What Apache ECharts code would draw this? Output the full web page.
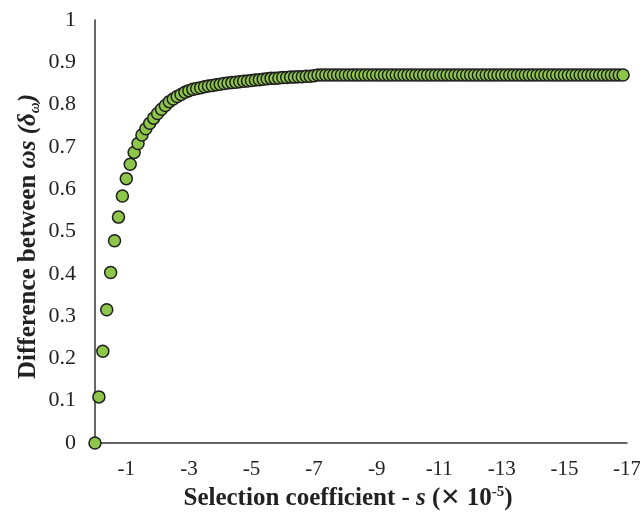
<!DOCTYPE html>
<html>
<head>
<meta charset="utf-8">
<script src="https://cdn.jsdelivr.net/npm/echarts@6/dist/echarts.min.js"></script>
<style>
  html, body { margin: 0; padding: 0; background: #fff; }
  #chart { width: 640px; height: 514px; }
</style>
</head>
<body>
<div id="chart"></div>
<script>
// selection coefficient s (x 10^-5)
var sValues = [
    0, -0.125, -0.25, -0.375, -0.5, -0.625, -0.75, -0.875,
    -1, -1.125, -1.25, -1.375, -1.5, -1.625, -1.75, -1.875,
    -2, -2.125, -2.25, -2.375, -2.5, -2.625, -2.75, -2.875,
    -3, -3.125, -3.25, -3.375, -3.5, -3.625, -3.75, -3.875,
    -4, -4.125, -4.25, -4.375, -4.5, -4.625, -4.75, -4.875,
    -5, -5.125, -5.25, -5.375, -5.5, -5.625, -5.75, -5.875,
    -6, -6.125, -6.25, -6.375, -6.5, -6.625, -6.75, -6.875,
    -7, -7.125, -7.25, -7.375, -7.5, -7.625, -7.75, -7.875,
    -8, -8.125, -8.25, -8.375, -8.5, -8.625, -8.75, -8.875,
    -9, -9.125, -9.25, -9.375, -9.5, -9.625, -9.75, -9.875,
    -10, -10.125, -10.25, -10.375, -10.5, -10.625, -10.75, -10.875,
    -11, -11.125, -11.25, -11.375, -11.5, -11.625, -11.75, -11.875,
    -12, -12.125, -12.25, -12.375, -12.5, -12.625, -12.75, -12.875,
    -13, -13.125, -13.25, -13.375, -13.5, -13.625, -13.75, -13.875,
    -14, -14.125, -14.25, -14.375, -14.5, -14.625, -14.75, -14.875,
    -15, -15.125, -15.25, -15.375, -15.5, -15.625, -15.75, -15.875,
    -16, -16.125, -16.25, -16.375, -16.5, -16.625, -16.75, -16.875
];
// difference between omegas (delta omega)
var deltaValues = [
    0, 0.109, 0.217, 0.315, 0.403, 0.478, 0.534, 0.584,
    0.625, 0.659, 0.687, 0.708, 0.728, 0.743, 0.756, 0.768,
    0.779, 0.789, 0.798, 0.807, 0.813, 0.819, 0.824, 0.829,
    0.833, 0.836, 0.838, 0.840, 0.842, 0.844, 0.845, 0.847,
    0.848, 0.850, 0.851, 0.852, 0.853, 0.854, 0.855, 0.856,
    0.857, 0.858, 0.859, 0.860, 0.861, 0.862, 0.862, 0.863,
    0.864, 0.864, 0.865, 0.865, 0.866, 0.866, 0.867, 0.867,
    0.868, 0.870, 0.870, 0.870, 0.870, 0.870, 0.870, 0.870,
    0.870, 0.870, 0.870, 0.870, 0.870, 0.870, 0.870, 0.870,
    0.870, 0.870, 0.870, 0.870, 0.870, 0.870, 0.870, 0.870,
    0.870, 0.870, 0.870, 0.870, 0.870, 0.870, 0.870, 0.870,
    0.870, 0.870, 0.870, 0.870, 0.870, 0.870, 0.870, 0.870,
    0.870, 0.870, 0.870, 0.870, 0.870, 0.870, 0.870, 0.870,
    0.870, 0.870, 0.870, 0.870, 0.870, 0.870, 0.870, 0.870,
    0.870, 0.870, 0.870, 0.870, 0.870, 0.870, 0.870, 0.870,
    0.870, 0.870, 0.870, 0.870, 0.870, 0.870, 0.870, 0.870,
    0.870, 0.870, 0.870, 0.870, 0.870, 0.870, 0.870, 0.870
];

var serif = "'Liberation Serif', 'DejaVu Serif', serif";

function buildPoints(xs, ys) {
    var pts = [];
    for (var i = 0; i < xs.length; i++) {
        pts.push([xs[i], ys[i]]);
    }
    return pts;
}

var chart = echarts.init(document.getElementById('chart'));
var option = {
    backgroundColor: '#fff',
    animation: false,
    grid: { left: 95, right: 13, top: 20, bottom: 71, outerBoundsMode: 'none' },
    xAxis: {
        type: 'value',
        min: -17,
        max: 0,
        interval: 1,
        inverse: true,
        splitLine: { show: false },
        axisTick: { show: false },
        axisLine: { lineStyle: { color: '#333', width: 1.5 } },
        axisLabel: {
            margin: 16,
            color: '#222',
            fontFamily: serif,
            fontSize: 21,
            formatter: function (v) {
                return (Math.abs(v) % 2 === 1) ? String(v) : '';
            }
        },
        name: '{b|Selection coefficient - }{bi|s}{b| (}{x|\u2715}{b| 10}{sup|-5}{b|)}',
        nameLocation: 'middle',
        nameGap: 42,
        nameMoveOverlap: false,
        nameTextStyle: {
            padding: [0, 26, 0, 0],
            rich: {
                b: { fontFamily: serif, fontWeight: 'bold', fontSize: 25, color: '#222', lineHeight: 28 },
                bi: { fontFamily: serif, fontWeight: 'bold', fontStyle: 'italic', fontSize: 25, color: '#222', lineHeight: 28 },
                x: { fontFamily: "'DejaVu Sans', sans-serif", fontWeight: 'bold', fontSize: 24, color: '#222', lineHeight: 28 },
                sup: { fontFamily: serif, fontWeight: 'bold', fontSize: 15, color: '#222', lineHeight: 16, verticalAlign: 'top' }
            }
        }
    },
    yAxis: {
        type: 'value',
        min: 0,
        max: 1,
        interval: 0.1,
        splitLine: { show: false },
        axisTick: { show: false },
        axisLine: { show: true, lineStyle: { color: '#333', width: 1.5 } },
        axisLabel: {
            margin: 19,
            color: '#222',
            fontFamily: serif,
            fontSize: 22,
            formatter: function (v) {
                return String(Math.round(v * 10) / 10);
            }
        },
        name: '{b|Difference between }{bi|\u03c9s (\u03b4}{sub|\u03c9}{bi|)}',
        nameLocation: 'middle',
        nameGap: 52,
        nameRotate: 90,
        nameMoveOverlap: false,
        nameTextStyle: {
            padding: [0, 10, 0, 0],
            rich: {
                b: { fontFamily: serif, fontWeight: 'bold', fontSize: 25, color: '#222', lineHeight: 28 },
                bi: { fontFamily: serif, fontWeight: 'bold', fontStyle: 'italic', fontSize: 25, color: '#222', lineHeight: 28 },
                sub: { fontFamily: serif, fontWeight: 'bold', fontStyle: 'italic', fontSize: 15, color: '#222', lineHeight: 16, verticalAlign: 'bottom' }
            }
        }
    },
    series: [{
        type: 'scatter',
        data: buildPoints(sValues, deltaValues),
        symbol: 'circle',
        symbolSize: 12,
        itemStyle: { color: '#8DC64A', borderColor: '#1e1e1e', borderWidth: 1.5, opacity: 1 },
        emphasis: { disabled: true }
    }]
};
chart.setOption(option);
</script>
</body>
</html>
